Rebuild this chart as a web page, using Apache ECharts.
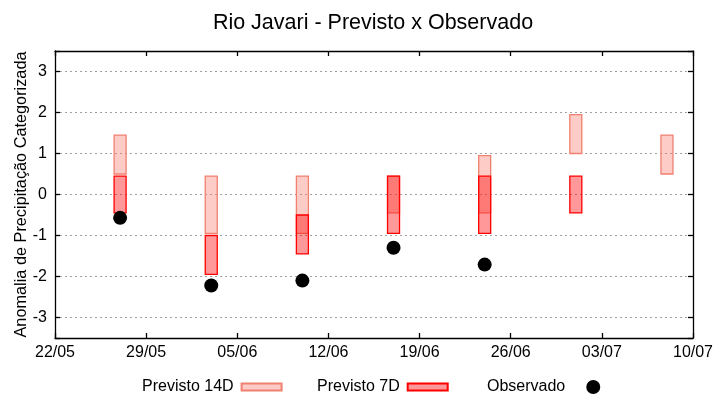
<!DOCTYPE html>
<html>
<head>
<meta charset="utf-8">
<script src="https://cdn.jsdelivr.net/npm/echarts@6/dist/echarts.min.js"></script>
<style>html,body{margin:0;padding:0;background:#fff}#c{width:720px;height:400px}</style>
</head>
<body>
<div id="c"></div>
<script>
// Data
const dates = ['27/05/2023','03/06/2023','10/06/2023','17/06/2023','24/06/2023','01/07/2023','08/07/2023'];
const prev14Low  = [0.5, -0.95, -0.95, -0.45, -0.45, 1.0, 0.5];
const prev14High = [1.45, 0.45, 0.45, 0.45, 0.95, 1.95, 1.45];
const prev7Low   = [-0.45, -1.95, -1.45, -0.95, -0.95, -0.45, null];
const prev7High  = [0.45, -1.0, -0.5, 0.45, 0.45, 0.45, null];
const observado  = [-0.57, -2.22, -2.1, -1.3, -1.71, null, null];
const xStart = '22/05/2023', xEnd = '10/07/2023';

const DAY = 86400000;
function ts(s){ const [d,m,y] = s.split('/').map(Number); return Date.UTC(y, m-1, d); }
function fmt(v){ const d = new Date(v); return String(d.getUTCDate()).padStart(2,'0') + '/' + String(d.getUTCMonth()+1).padStart(2,'0'); }

function rangeData(lo, hi){
  const out = [];
  dates.forEach((d,i)=>{ if(lo[i]!=null && hi[i]!=null) out.push([ts(d), lo[i], hi[i]]); });
  return out;
}
const obsData = [];
dates.forEach((d,i)=>{ if(observado[i]!=null) obsData.push([ts(d), observado[i]]); });

function makeRender(fill, stroke){
  return function(params, api){
    const x = api.value(0), lo = api.value(1), hi = api.value(2);
    const pTop = api.coord([x, hi]);
    const pBot = api.coord([x, lo]);
    const w = 12;
    return {
      type: 'rect',
      shape: { x: pTop[0] - w/2, y: pTop[1], width: w, height: pBot[1] - pTop[1] },
      style: { fill: fill, stroke: stroke, lineWidth: 1.3 }
    };
  };
}

const FONT = 'Liberation Sans, Arial, sans-serif';
const c14fill = 'rgba(250,128,114,0.4)', c14stroke = '#f08070';
const c7fill = 'rgba(255,0,0,0.4)', c7stroke = '#ff0000';

const chart = echarts.init(document.getElementById('c'));
const xmin = ts(xStart), xmax = ts(xEnd);
const yLabel = v => (Math.abs(v - Math.round(v)) < 1e-6 ? String(Math.round(v)) : '');
const axisLineStyle = { color: '#000', width: 1.3 };

chart.setOption({
  animation: false,
  textStyle: { fontFamily: FONT },
  title: {
    text: 'Rio Javari - Previsto x Observado',
    left: 368, top: 7, textAlign: 'center',
    textStyle: { fontFamily: FONT, fontSize: 21.5, fontWeight: 'normal', color: '#000' }
  },
  grid: { left: 55, right: 27, top: 51, bottom: 62 },
  legend: [
    { data: ['Previsto 14D'], left: 137, top: 374, align: 'right', icon: 'rect', itemWidth: 40, itemHeight: 7,
      textStyle: { fontFamily: FONT, fontSize: 16, color: '#000', padding: [0, 3, 0, 0] } },
    { data: ['Previsto 7D'], left: 312, top: 374, align: 'right', icon: 'rect', itemWidth: 40, itemHeight: 7,
      textStyle: { fontFamily: FONT, fontSize: 16, color: '#000', padding: [0, 3, 0, 0] } },
    { data: ['Observado'], left: 482, top: 374, align: 'right', icon: 'circle', itemWidth: 40, itemHeight: 14,
      textStyle: { fontFamily: FONT, fontSize: 16, color: '#000', padding: [0, 3, 0, 0] } }
  ],
  xAxis: [
    { type: 'value', min: xmin, max: xmax, interval: 7*DAY,
      axisLine: { onZero: false, lineStyle: axisLineStyle },
      axisTick: { inside: true, length: 5, lineStyle: axisLineStyle },
      axisLabel: { formatter: fmt, color: '#000', fontSize: 16, fontFamily: FONT, margin: 7 },
      splitLine: { show: false } },
    { type: 'value', position: 'top', min: xmin, max: xmax, interval: 7*DAY,
      axisLine: { onZero: false, lineStyle: axisLineStyle },
      axisTick: { inside: true, length: 5, lineStyle: axisLineStyle },
      axisLabel: { show: false }, splitLine: { show: false } }
  ],
  yAxis: [
    { type: 'value', min: -3.5, max: 3.5, splitNumber: 7,
      name: 'Anomalia de Precipitação Categorizada', nameLocation: 'middle', nameGap: 25,
      nameMoveOverlap: false,
      nameTextStyle: { fontFamily: FONT, fontSize: 16.3, color: '#000' },
      axisLine: { onZero: false, lineStyle: axisLineStyle },
      axisTick: { show: true, inside: true, length: 5, lineStyle: axisLineStyle },
      axisLabel: { formatter: yLabel, color: '#000', fontSize: 16, fontFamily: FONT, margin: 8 },
      splitLine: { show: true, lineStyle: { color: '#a0a0a0', type: [2, 3], width: 1 } } },
    { type: 'value', position: 'right', min: -3.5, max: 3.5, splitNumber: 7,
      axisLine: { show: true, onZero: false, lineStyle: axisLineStyle },
      axisTick: { show: true, inside: true, length: 5, lineStyle: axisLineStyle },
      axisLabel: { show: false }, splitLine: { show: false } }
  ],
  series: [
    { name: 'Previsto 14D', type: 'custom', renderItem: makeRender(c14fill, c14stroke),
      itemStyle: { color: c14fill, borderColor: c14stroke, borderWidth: 1.3 },
      encode: { x: 0, y: [1, 2] }, data: rangeData(prev14Low, prev14High), z: 2 },
    { name: 'Previsto 7D', type: 'custom', renderItem: makeRender(c7fill, c7stroke),
      itemStyle: { color: c7fill, borderColor: c7stroke, borderWidth: 1.3 },
      encode: { x: 0, y: [1, 2] }, data: rangeData(prev7Low, prev7High), z: 3 },
    { name: 'Observado', type: 'scatter', symbol: 'circle', symbolSize: 14,
      itemStyle: { color: '#000', opacity: 1 }, data: obsData, z: 4 }
  ]
});
</script>
</body>
</html>
